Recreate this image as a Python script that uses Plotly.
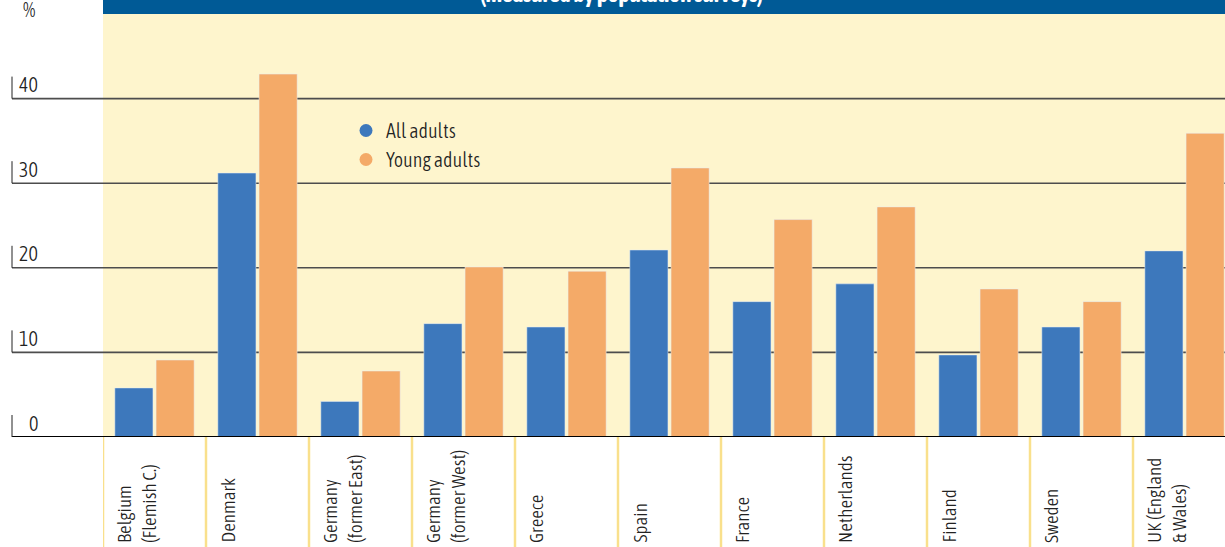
import plotly.graph_objects as go

categories = ["Belgium<br>(Flemish C.)", "Denmark", "Germany<br>(former East)",
              "Germany<br>(former West)", "Greece", "Spain", "France",
              "Netherlands", "Finland", "Sweden", "UK (England<br>& Wales)"]
all_adults = [5.8, 31.2, 4.2, 13.4, 13.0, 22.1, 16.0, 18.1, 9.7, 13.0, 22.0]
young_adults = [9.1, 42.9, 7.8, 20.1, 19.6, 31.8, 25.7, 27.2, 17.5, 16.0, 35.9]
y_ticks = [0, 10, 20, 30, 40]
series_names = ["All adults", "Young adults"]

BLUE = "#3d78bc"
ORANGE = "#f4aa68"
FONT = "Asap Condensed, Roboto, sans-serif"
TXT = "#222222"
WT = 300

W, H = 1225, 547
L, T, B = 103, 14, 110
plot_h = H - T - B
plot_w = W - L
cat_px = 103.0

fig = go.Figure()
fig.add_trace(go.Bar(x=list(range(len(categories))), y=all_adults, name=series_names[0],
                     marker_color=BLUE, showlegend=False))
fig.add_trace(go.Bar(x=list(range(len(categories))), y=young_adults, name=series_names[1],
                     marker_color=ORANGE, showlegend=False))
# legend entries (round markers)
fig.add_trace(go.Scatter(x=[None], y=[None], mode="markers", name=series_names[0],
                         marker=dict(color=BLUE, size=13, symbol="circle")))
fig.add_trace(go.Scatter(x=[None], y=[None], mode="markers", name=series_names[1],
                         marker=dict(color=ORANGE, size=13, symbol="circle")))

shapes = []
annotations = []
x_left = (12 - L) / plot_w
for v in y_ticks:
    shapes.append(dict(type="line", xref="paper", yref="y", x0=x_left, x1=1, y0=v, y1=v,
                       line=dict(color="#000000" if v == 0 else "#4d4d4d",
                                 width=2 if v == 0 else 1.6),
                       layer="above" if v == 0 else "below"))
    shapes.append(dict(type="line", xref="paper", yref="y", x0=x_left, x1=x_left,
                       y0=v, y1=v + 2.6, line=dict(color=TXT, width=1)))
    annotations.append(dict(text=str(v), xref="paper", yref="y", x=(40 - L) / plot_w, y=v,
                            xanchor="right", yanchor="middle", yshift=14, showarrow=False,
                            font=dict(family=FONT, size=20, color=TXT, weight=WT)))
for i in range(len(categories)):
    shapes.append(dict(type="line", xref="x", yref="paper", x0=i - 0.5, x1=i - 0.5,
                       y0=-(B + 2) / plot_h, y1=0, line=dict(color="#f9e08c", width=2.5)))
    annotations.append(dict(text=categories[i], xref="x", yref="paper", x=i - 0.5,
                            y=-(545 - (H - B)) / plot_h, xanchor="left", yanchor="bottom",
                            xshift=8, textangle=-90, align="left", showarrow=False,
                            font=dict(family=FONT, size=19, color=TXT, weight=WT)))
# title bar
shapes.append(dict(type="rect", xref="paper", yref="paper", x0=0, x1=1, y0=1,
                   y1=1 + (T + 5) / plot_h, fillcolor="#005a96", line=dict(width=0), layer="above"))
annotations.append(dict(text="<b>(measured by population surveys)</b>", xref="paper", yref="paper",
                        x=(621 - L) / plot_w, y=1 + (T + 6) / plot_h, xanchor="center",
                        yanchor="middle", showarrow=False,
                        font=dict(family=FONT, size=23, color="#ffffff")))
annotations.append(dict(text="%", xref="paper", yref="paper", x=(21 - L) / plot_w,
                        y=1 + (T - 10) / plot_h, xanchor="left", yanchor="middle", showarrow=False,
                        font=dict(family=FONT, size=20, color=TXT, weight=WT)))

fig.update_layout(
    width=W, height=H,
    margin=dict(l=L, r=0, t=T, b=B),
    paper_bgcolor="#ffffff",
    plot_bgcolor="#fef5cd",
    barmode="group", bargap=0.2, bargroupgap=0.075,
    font=dict(family=FONT, color=TXT),
    xaxis=dict(range=[-0.5, -0.5 + plot_w / cat_px], showticklabels=False, showgrid=False,
               zeroline=False, fixedrange=True),
    yaxis=dict(range=[0, 50], showticklabels=False, showgrid=False, zeroline=False,
               fixedrange=True),
    legend=dict(x=(346 - L) / plot_w, y=1 - (111 - T) / plot_h, xanchor="left", yanchor="top",
                bgcolor="rgba(0,0,0,0)",
                font=dict(family=FONT, size=20, color=TXT, weight=WT),
                itemwidth=30, tracegroupgap=0),
    shapes=shapes, annotations=annotations,
    showlegend=True,
)
fig.write_html("out.html", config={"displayModeBar": False},
               post_script="document.body.style.margin='0px';")
